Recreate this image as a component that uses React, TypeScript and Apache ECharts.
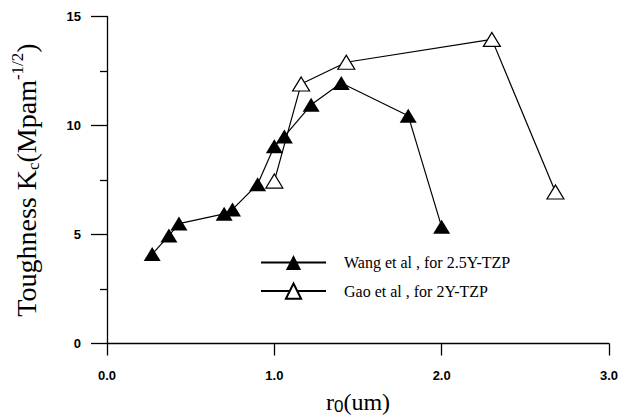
import React, { useEffect, useRef } from "react";
import * as echarts from "echarts";

const wangX = [0.27, 0.37, 0.43, 0.70, 0.75, 0.90, 1.0, 1.06, 1.22, 1.40, 1.80, 2.0];
const wangY = [4.1, 4.95, 5.5, 5.95, 6.15, 7.3, 9.05, 9.5, 10.95, 11.95, 10.45, 5.35];
const gaoX = [1.0, 1.16, 1.43, 2.30, 2.68];
const gaoY = [7.45, 11.9, 12.9, 13.95, 6.95];
const seriesNames = ["Wang et al , for 2.5Y-TZP", "Gao et al , for 2Y-TZP"];

export default function App() {
  const ref = useRef<HTMLDivElement>(null);
  useEffect(() => {
    if (!ref.current) return;
    const chart = echarts.init(ref.current, null, { renderer: "svg" });
    const serif = "'Liberation Serif', 'Times New Roman', serif";
    const sans = "'Liberation Sans', Arial, sans-serif";
    chart.setOption({
      animation: false,
      backgroundColor: "#fff",
      grid: { left: 107, right: 22, top: 16.5, bottom: 73.5, containLabel: false, outerBoundsMode: "none" },
      legend: {
        orient: "vertical",
        left: 255,
        top: 249.5,
        itemWidth: 65,
        itemHeight: 19,
        itemGap: 12,
        textStyle: { fontFamily: serif, fontSize: 16, color: "#000", padding: [0, 0, 0, 13] },
        data: seriesNames,
      },
      xAxis: {
        type: "value",
        min: 0,
        max: 3,
        interval: 1,
        splitLine: { show: false },
        axisLine: { show: true, lineStyle: { color: "#000", width: 1.3 } },
        axisTick: { show: true, inside: false, length: 12, lineStyle: { color: "#000", width: 1.3 } },
        axisLabel: {
          margin: 25,
          color: "#000",
          fontFamily: sans,
          fontSize: 13,
          fontWeight: "bold",
          formatter: (v: number) => v.toFixed(1),
        },
        name: "{a|r}{sub|0}{a|(um)}",
        nameLocation: "middle",
        nameGap: 44,
        nameTextStyle: {
          rich: {
            a: { fontFamily: serif, fontSize: 24, color: "#000", verticalAlign: "top", lineHeight: 25 },
            sub: { fontFamily: sans, fontSize: 17, color: "#000", verticalAlign: "bottom", lineHeight: 25, padding: [12, 0, 0, 0] },
          },
        },
      },
      yAxis: {
        type: "value",
        min: 0,
        max: 15,
        interval: 5,
        splitLine: { show: false },
        axisLine: { show: true, lineStyle: { color: "#000", width: 1.3 } },
        axisTick: { show: true, inside: false, length: 16, lineStyle: { color: "#000", width: 1.3 } },
        minorTick: { show: true, splitNumber: 2, length: 7, lineStyle: { color: "#000", width: 1.3 } },
        axisLabel: {
          margin: 26,
          color: "#000",
          fontFamily: sans,
          fontSize: 13,
          fontWeight: "bold",
        },
        name: "{a|Toughness K}{sub|c}{a|(Mpam}{sup|-1/2}{a|)}",
        nameLocation: "middle",
        nameRotate: 90,
        nameGap: 64,
        nameTextStyle: {
          rich: {
            a: { fontFamily: serif, fontSize: 28, color: "#000" },
            sub: { fontFamily: serif, fontSize: 17, color: "#000", padding: [15, 0, 0, 0] },
            sup: { fontFamily: serif, fontSize: 17, color: "#000", padding: [0, 0, 17, 0] },
          },
        },
      },
      series: [
        {
          name: seriesNames[0],
          type: "line",
          data: wangX.map((x, i) => [x, wangY[i]]),
          symbol: "triangle",
          symbolSize: [17, 14],
          itemStyle: { color: "#000" },
          lineStyle: { color: "#000", width: 1.2 },
          z: 3,
        },
        {
          name: seriesNames[1],
          type: "line",
          data: gaoX.map((x, i) => [x, gaoY[i]]),
          symbol: "triangle",
          symbolSize: [17, 14],
          itemStyle: { color: "#fff", borderColor: "#000", borderWidth: 1.2 },
          lineStyle: { color: "#000", width: 1.2 },
          z: 2,
        },
      ],
    });
    return () => chart.dispose();
  }, []);
  return <div ref={ref} style={{ width: 631, height: 417, position: "absolute", left: 0, top: 0 }} />;
}
